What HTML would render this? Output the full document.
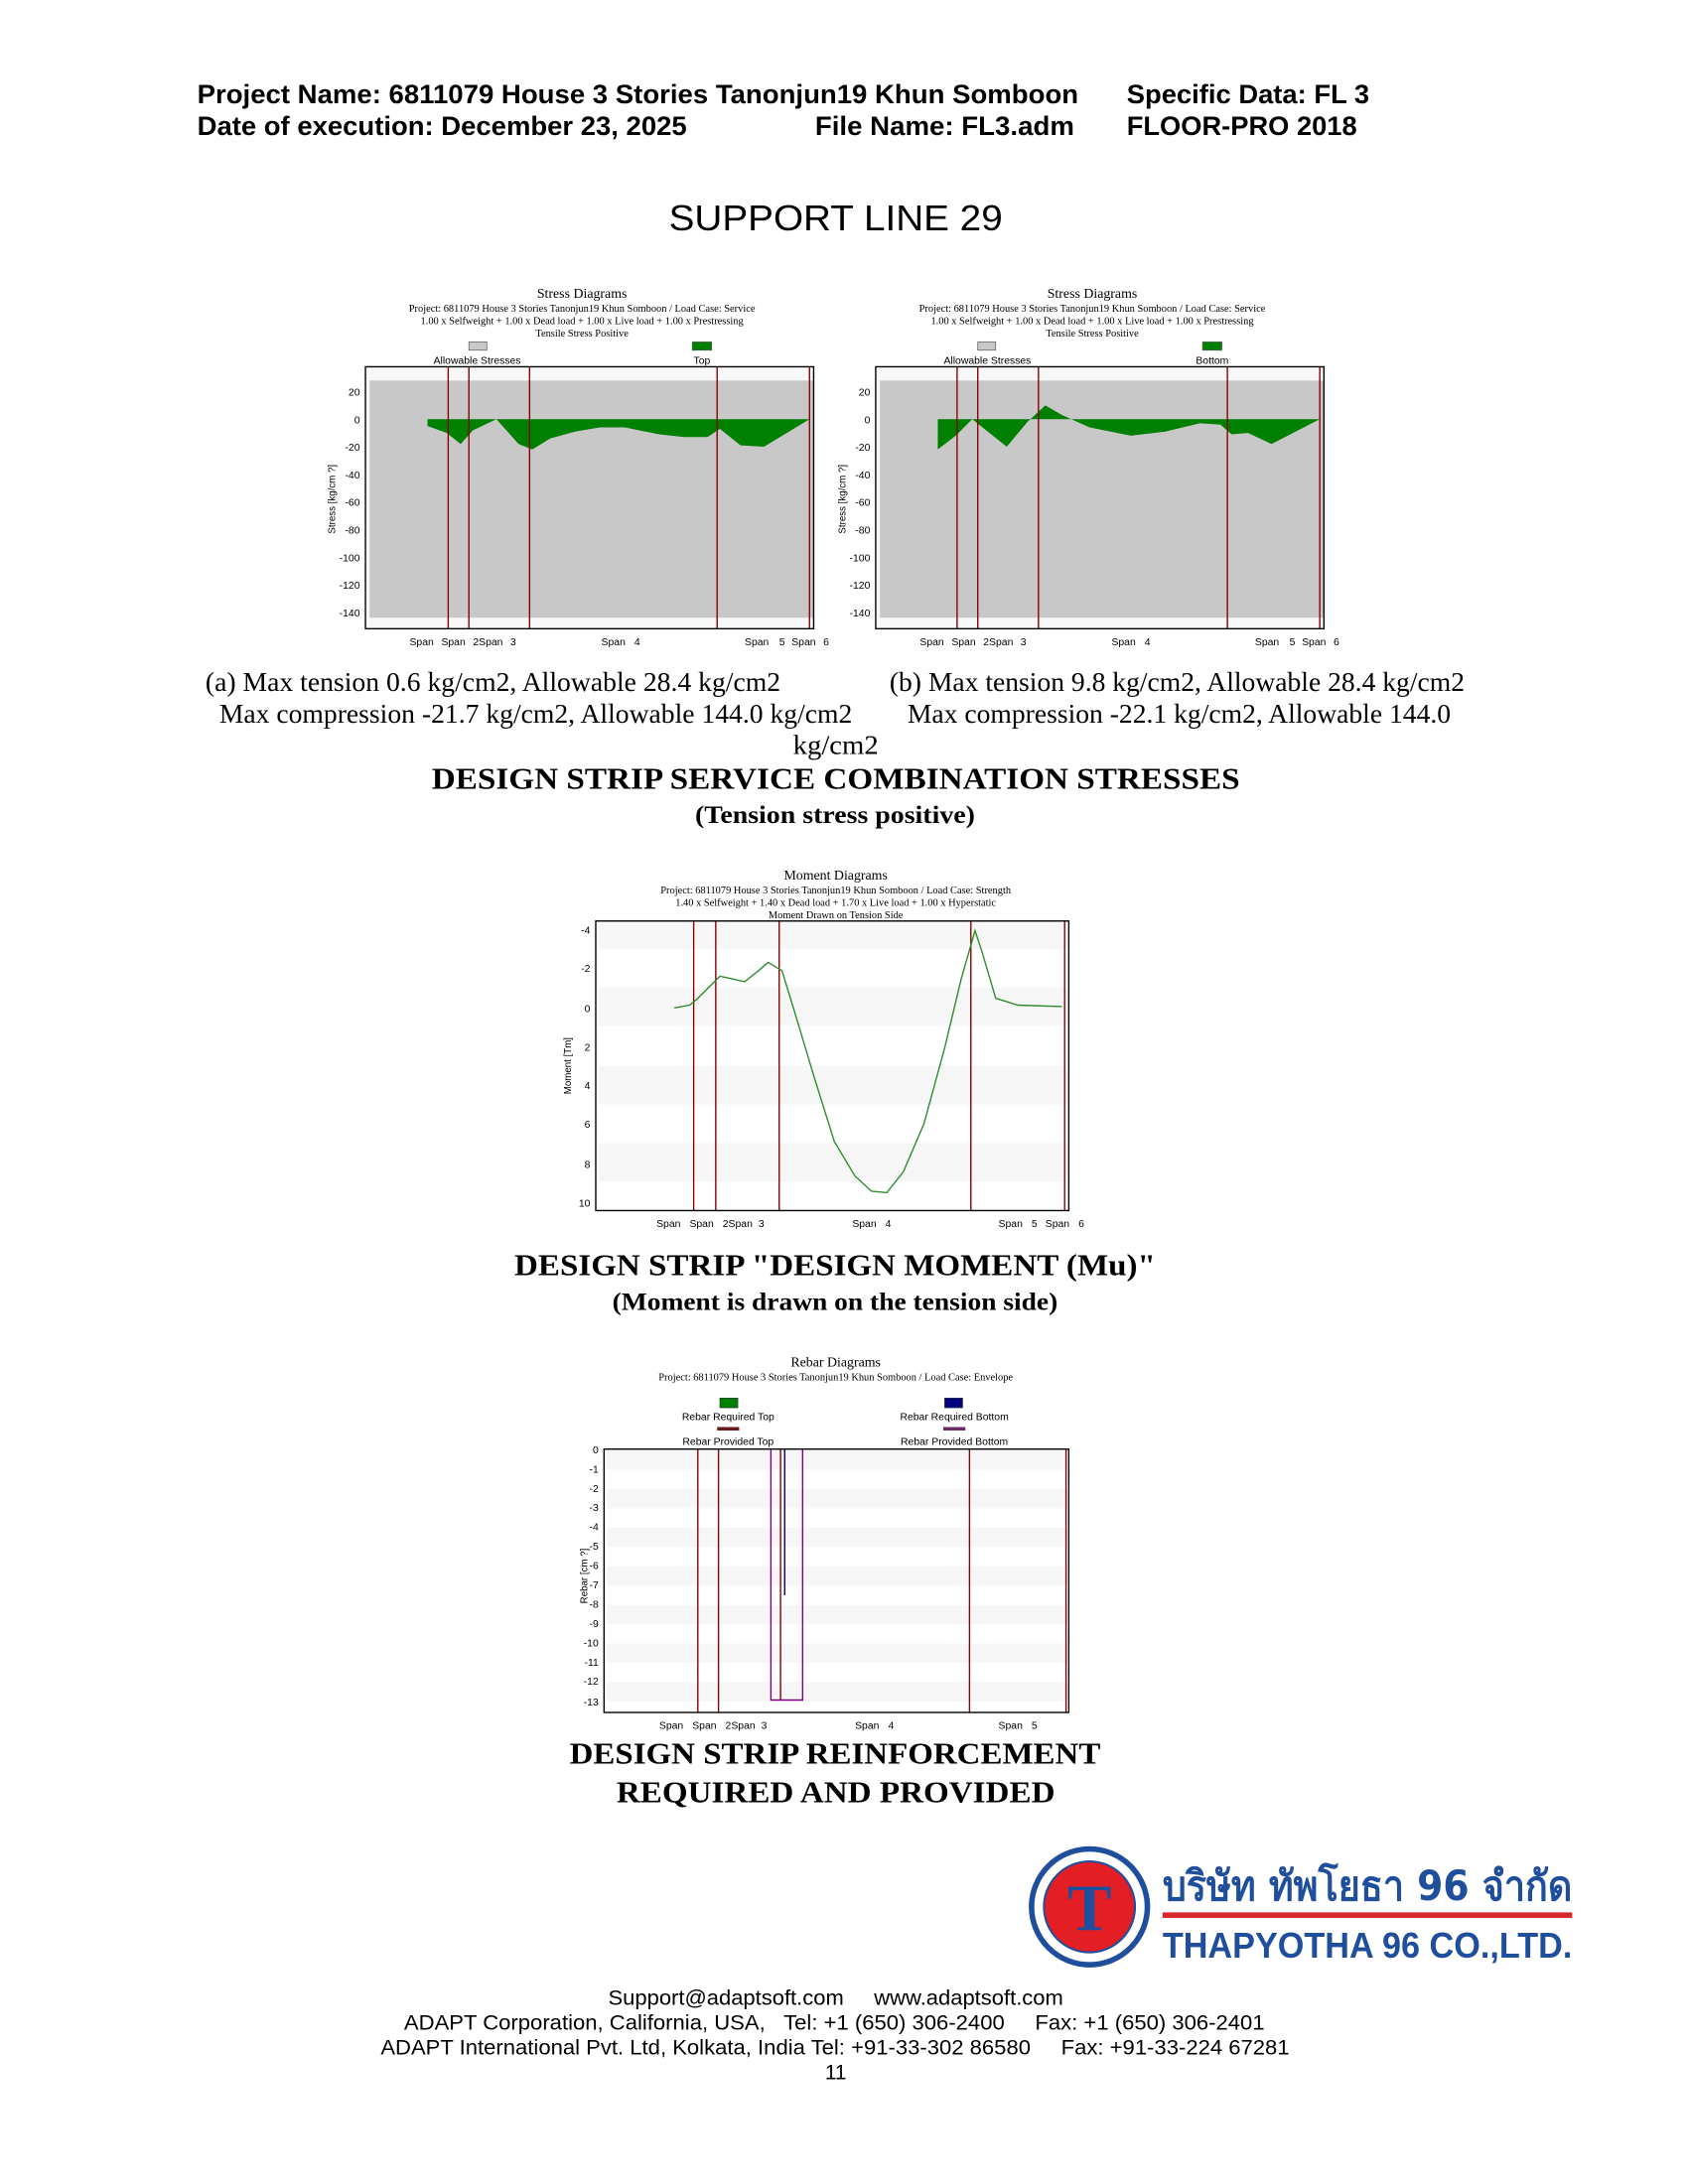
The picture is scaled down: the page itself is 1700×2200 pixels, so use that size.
<!DOCTYPE html>
<html><head><meta charset="utf-8"><style>
html,body{margin:0;padding:0;background:#fff;}
svg{display:block;}
.h{font-family:"Liberation Sans",sans-serif;font-weight:bold;font-size:19px;fill:#000;}
.s{font-family:"Liberation Serif",serif;}
.a{font-family:"Liberation Sans",sans-serif;}
</style></head><body>
<svg width="1700" height="2200" viewBox="0 0 1224 1584" xmlns="http://www.w3.org/2000/svg">
<rect width="1224" height="1584" fill="#fff"/>
<text x="143" y="75" class="h" textLength="639" lengthAdjust="spacingAndGlyphs">Project Name: 6811079 House 3 Stories Tanonjun19 Khun Somboon</text>
<text x="817" y="75" class="h" textLength="176" lengthAdjust="spacingAndGlyphs">Specific Data: FL 3</text>
<text x="143" y="98" class="h" textLength="355" lengthAdjust="spacingAndGlyphs">Date of execution: December 23, 2025</text>
<text x="591" y="98" class="h" textLength="188" lengthAdjust="spacingAndGlyphs">File Name: FL3.adm</text>
<text x="817" y="98" class="h" textLength="167" lengthAdjust="spacingAndGlyphs">FLOOR-PRO 2018</text>
<text x="485" y="167" class="a" font-size="26" textLength="242" lengthAdjust="spacingAndGlyphs">SUPPORT LINE 29</text>

<!-- Stress chart A -->
<g>
<text x="422" y="216" text-anchor="middle" class="s" font-size="10">Stress Diagrams</text>
<text x="422" y="226" text-anchor="middle" class="s" font-size="7.5">Project: 6811079 House 3 Stories Tanonjun19 Khun Somboon / Load Case: Service</text>
<text x="422" y="235" text-anchor="middle" class="s" font-size="7.5">1.00 x Selfweight +  1.00 x Dead load +  1.00 x Live load +  1.00 x Prestressing</text>
<text x="422" y="244" text-anchor="middle" class="s" font-size="7.5">Tensile Stress Positive</text>
<rect x="340" y="248" width="13" height="6" fill="#c8c8c8" stroke="#555" stroke-width="0.5"/>
<text x="346" y="264" text-anchor="middle" class="a" font-size="7.5">Allowable Stresses</text>
<rect x="502" y="248" width="14" height="6" fill="#008000" stroke="#555" stroke-width="0.5"/>
<text x="509" y="264" text-anchor="middle" class="a" font-size="7.5">Top</text>
<rect x="265" y="266" width="325" height="190" fill="#f8f8f8"/>
<rect x="268" y="276" width="322" height="172" fill="#c8c8c8"/>
<polygon fill="#008000" points="310,304 310,309 324,314 334,322 343,312 360,304 376,322 386,326 399,318 417,313 435,310 453,310 478,315 496,317 513,317 522,311 537,323 554,324 587,304"/>
<g stroke="#8b0000" stroke-width="1"><line x1="325" y1="266" x2="325" y2="456"/><line x1="340" y1="266" x2="340" y2="456"/><line x1="384" y1="266" x2="384" y2="456"/><line x1="520" y1="266" x2="520" y2="456"/><line x1="587" y1="266" x2="587" y2="456"/></g>
<rect x="265" y="266" width="325" height="190" fill="none" stroke="#000" stroke-width="1"/>
<g class="a" font-size="7.5" text-anchor="end">
<text x="261" y="287">20</text><text x="261" y="307">0</text><text x="261" y="327">-20</text><text x="261" y="347">-40</text><text x="261" y="367">-60</text><text x="261" y="387">-80</text><text x="261" y="407">-100</text><text x="261" y="427">-120</text><text x="261" y="447">-140</text></g>
<text transform="translate(243,362) rotate(-90)" text-anchor="middle" class="a" font-size="7">Stress [kg/cm ?]</text>
<g class="a" font-size="7.5"><text x="297" y="468">Span</text><text x="320" y="468">Span</text><text x="343" y="468">2Span</text><text x="370" y="468">3</text><text x="436" y="468">Span</text><text x="460" y="468">4</text><text x="540" y="468">Span</text><text x="565" y="468">5</text><text x="574" y="468">Span</text><text x="597" y="468">6</text></g>
</g>

<!-- Stress chart B -->
<g>
<text x="792" y="216" text-anchor="middle" class="s" font-size="10">Stress Diagrams</text>
<text x="792" y="226" text-anchor="middle" class="s" font-size="7.5">Project: 6811079 House 3 Stories Tanonjun19 Khun Somboon / Load Case: Service</text>
<text x="792" y="235" text-anchor="middle" class="s" font-size="7.5">1.00 x Selfweight +  1.00 x Dead load +  1.00 x Live load +  1.00 x Prestressing</text>
<text x="792" y="244" text-anchor="middle" class="s" font-size="7.5">Tensile Stress Positive</text>
<rect x="709" y="248" width="13" height="6" fill="#c8c8c8" stroke="#555" stroke-width="0.5"/>
<text x="716" y="264" text-anchor="middle" class="a" font-size="7.5">Allowable Stresses</text>
<rect x="872" y="248" width="14" height="6" fill="#008000" stroke="#555" stroke-width="0.5"/>
<text x="879" y="264" text-anchor="middle" class="a" font-size="7.5">Bottom</text>
<rect x="635" y="266" width="325" height="190" fill="#f8f8f8"/>
<rect x="638" y="276" width="322" height="172" fill="#c8c8c8"/>
<polygon fill="#008000" points="680,304 680,326 693,316 705,304 730,324 745,306 758,294 770,301 790,310 820,316 845,313 870,307 885,308 893,315 905,314 922,322 957,304"/>
<g stroke="#8b0000" stroke-width="1"><line x1="694" y1="266" x2="694" y2="456"/><line x1="709" y1="266" x2="709" y2="456"/><line x1="753" y1="266" x2="753" y2="456"/><line x1="890" y1="266" x2="890" y2="456"/><line x1="957" y1="266" x2="957" y2="456"/></g>
<rect x="635" y="266" width="325" height="190" fill="none" stroke="#000" stroke-width="1"/>
<g class="a" font-size="7.5" text-anchor="end">
<text x="631" y="287">20</text><text x="631" y="307">0</text><text x="631" y="327">-20</text><text x="631" y="347">-40</text><text x="631" y="367">-60</text><text x="631" y="387">-80</text><text x="631" y="407">-100</text><text x="631" y="427">-120</text><text x="631" y="447">-140</text></g>
<text transform="translate(613,362) rotate(-90)" text-anchor="middle" class="a" font-size="7">Stress [kg/cm ?]</text>
<g class="a" font-size="7.5"><text x="667" y="468">Span</text><text x="690" y="468">Span</text><text x="713" y="468">2Span</text><text x="740" y="468">3</text><text x="806" y="468">Span</text><text x="830" y="468">4</text><text x="910" y="468">Span</text><text x="935" y="468">5</text><text x="944" y="468">Span</text><text x="967" y="468">6</text></g>
</g>

<g class="s" font-size="19.5">
<text x="149" y="501" textLength="417" lengthAdjust="spacingAndGlyphs">(a) Max tension 0.6 kg/cm2, Allowable 28.4 kg/cm2</text>
<text x="159" y="524" textLength="459" lengthAdjust="spacingAndGlyphs">Max compression -21.7 kg/cm2, Allowable 144.0 kg/cm2</text>
<text x="645" y="501" textLength="417" lengthAdjust="spacingAndGlyphs">(b) Max tension 9.8 kg/cm2, Allowable 28.4 kg/cm2</text>
<text x="658" y="524" textLength="394" lengthAdjust="spacingAndGlyphs">Max compression -22.1 kg/cm2, Allowable 144.0</text>
<text x="575" y="547" textLength="62" lengthAdjust="spacingAndGlyphs">kg/cm2</text>
</g>
<text x="313" y="572" class="s" font-weight="bold" font-size="22" textLength="586" lengthAdjust="spacingAndGlyphs">DESIGN STRIP SERVICE COMBINATION STRESSES</text>
<text x="504" y="597" class="s" font-weight="bold" font-size="18" textLength="203" lengthAdjust="spacingAndGlyphs">(Tension stress positive)</text>

<!-- Moment chart -->
<g>
<text x="606" y="638" text-anchor="middle" class="s" font-size="10">Moment Diagrams</text>
<text x="606" y="648" text-anchor="middle" class="s" font-size="7.5">Project: 6811079 House 3 Stories Tanonjun19 Khun Somboon / Load Case: Strength</text>
<text x="606" y="657" text-anchor="middle" class="s" font-size="7.5">1.40 x Selfweight +  1.40 x Dead load +  1.70 x Live load +  1.00 x Hyperstatic</text>
<text x="606" y="666" text-anchor="middle" class="s" font-size="7.5">Moment Drawn on Tension Side</text>
<rect x="432" y="668" width="343" height="210" fill="#fff"/>
<g fill="#f6f6f6"><rect x="434" y="670" width="340" height="18"/><rect x="434" y="716" width="340" height="28"/><rect x="434" y="773" width="340" height="28"/><rect x="434" y="829" width="340" height="28"/></g>
<g stroke="#8b0000" stroke-width="1"><line x1="503" y1="668" x2="503" y2="878"/><line x1="519" y1="668" x2="519" y2="878"/><line x1="565" y1="668" x2="565" y2="878"/><line x1="704" y1="668" x2="704" y2="878"/><line x1="772" y1="668" x2="772" y2="878"/></g>
<polyline fill="none" stroke="#2e8b2e" stroke-width="1" points="489,731 500,729 505,725 512,718 522,708 531,710 540,712 550,704 557,698 567,704 575,730 590,780 605,828 620,853 632,864 643,865 655,850 670,815 685,760 697,710 707,675 712,690 722,724 738,729 770,730"/>
<rect x="432" y="668" width="343" height="210" fill="none" stroke="#000" stroke-width="1"/>
<g class="a" font-size="7.5" text-anchor="end">
<text x="428" y="677">-4</text><text x="428" y="705">-2</text><text x="428" y="734">0</text><text x="428" y="762">2</text><text x="428" y="790">4</text><text x="428" y="818">6</text><text x="428" y="847">8</text><text x="428" y="875">10</text></g>
<text transform="translate(414,773) rotate(-90)" text-anchor="middle" class="a" font-size="7">Moment [Tm]</text>
<g class="a" font-size="7.5"><text x="476" y="890">Span</text><text x="500" y="890">Span</text><text x="524" y="890">2Span</text><text x="550" y="890">3</text><text x="618" y="890">Span</text><text x="642" y="890">4</text><text x="724" y="890">Span</text><text x="748" y="890">5</text><text x="758" y="890">Span</text><text x="782" y="890">6</text></g>
</g>
<text x="373" y="925" class="s" font-weight="bold" font-size="22" textLength="465" lengthAdjust="spacingAndGlyphs">DESIGN STRIP "DESIGN MOMENT (Mu)"</text>
<text x="444" y="950" class="s" font-weight="bold" font-size="18" textLength="323" lengthAdjust="spacingAndGlyphs">(Moment is drawn on the tension side)</text>

<!-- Rebar chart -->
<g>
<text x="606" y="991" text-anchor="middle" class="s" font-size="10">Rebar Diagrams</text>
<text x="606" y="1001" text-anchor="middle" class="s" font-size="7.5">Project: 6811079 House 3 Stories Tanonjun19 Khun Somboon / Load Case: Envelope</text>
<rect x="522" y="1014" width="13" height="7" fill="#008000" stroke="#333" stroke-width="0.5"/>
<text x="528" y="1030" text-anchor="middle" class="a" font-size="7.5">Rebar Required Top</text>
<rect x="520" y="1035" width="16" height="2.5" fill="#6b1a1a"/>
<text x="528" y="1048" text-anchor="middle" class="a" font-size="7.5">Rebar Provided Top</text>
<rect x="685" y="1014" width="13" height="7" fill="#000080" stroke="#333" stroke-width="0.5"/>
<text x="692" y="1030" text-anchor="middle" class="a" font-size="7.5">Rebar Required Bottom</text>
<rect x="684" y="1035" width="16" height="2.5" fill="#6a2a6a"/>
<text x="692" y="1048" text-anchor="middle" class="a" font-size="7.5">Rebar Provided Bottom</text>
<rect x="438" y="1051" width="337" height="191" fill="#fff"/>
<g fill="#f6f6f6"><rect x="440" y="1052" width="334" height="14"/><rect x="440" y="1080" width="334" height="14"/><rect x="440" y="1108" width="334" height="14"/><rect x="440" y="1136" width="334" height="14"/><rect x="440" y="1164" width="334" height="14"/><rect x="440" y="1192" width="334" height="14"/><rect x="440" y="1220" width="334" height="14"/></g>
<g stroke="#8b0000" stroke-width="1"><line x1="506" y1="1051" x2="506" y2="1242"/><line x1="521" y1="1051" x2="521" y2="1242"/><line x1="703" y1="1051" x2="703" y2="1242"/><line x1="773" y1="1051" x2="773" y2="1242"/><line x1="566" y1="1051" x2="566" y2="1233"/></g>
<polyline fill="none" stroke="#800080" stroke-width="1" points="559,1051 559,1233 582,1233 582,1051"/>
<line x1="569" y1="1051" x2="569" y2="1157" stroke="#000080" stroke-width="1"/>
<rect x="438" y="1051" width="337" height="191" fill="none" stroke="#000" stroke-width="1"/>
<g class="a" font-size="7.5" text-anchor="end">
<text x="434" y="1054">0</text><text x="434" y="1068">-1</text><text x="434" y="1082">-2</text><text x="434" y="1096">-3</text><text x="434" y="1110">-4</text><text x="434" y="1124">-5</text><text x="434" y="1138">-6</text><text x="434" y="1152">-7</text><text x="434" y="1166">-8</text><text x="434" y="1180">-9</text><text x="434" y="1194">-10</text><text x="434" y="1208">-11</text><text x="434" y="1222">-12</text><text x="434" y="1237">-13</text></g>
<text transform="translate(426,1143) rotate(-90)" text-anchor="middle" class="a" font-size="7">Rebar [cm ?]</text>
<g class="a" font-size="7.5"><text x="478" y="1254">Span</text><text x="502" y="1254">Span</text><text x="526" y="1254">2Span</text><text x="552" y="1254">3</text><text x="620" y="1254">Span</text><text x="644" y="1254">4</text><text x="724" y="1254">Span</text><text x="748" y="1254">5</text></g>
</g>
<text x="413" y="1279" class="s" font-weight="bold" font-size="22" textLength="385" lengthAdjust="spacingAndGlyphs">DESIGN STRIP REINFORCEMENT</text>
<text x="447" y="1307" class="s" font-weight="bold" font-size="22" textLength="318" lengthAdjust="spacingAndGlyphs">REQUIRED AND PROVIDED</text>

<!-- Logo -->
<circle cx="790" cy="1383" r="42" fill="#fff" stroke="#1f4e9c" stroke-width="4"/>
<circle cx="790" cy="1383" r="33" fill="#e31e24" stroke="#1f4e9c" stroke-width="1.5"/>
<text x="790" y="1400" text-anchor="middle" class="s" font-weight="bold" font-size="48" fill="#1f4e9c">T</text>
<text x="843" y="1378" font-family="'DejaVu Sans','Liberation Sans',sans-serif" font-weight="bold" font-size="30" fill="#1f4e9c" textLength="297" lengthAdjust="spacingAndGlyphs">บริษัท ทัพโยธา 96 จำกัด</text>
<rect x="843" y="1387" width="297" height="4" fill="#d7262d"/>
<text x="843" y="1420" class="a" font-weight="bold" font-size="26" fill="#1f4e9c" textLength="297" lengthAdjust="spacingAndGlyphs">THAPYOTHA 96 CO.,LTD.</text>

<g class="a" font-size="15">
<text x="441" y="1454" textLength="330" lengthAdjust="spacingAndGlyphs">Support@adaptsoft.com&#160;&#160;&#160;&#160;&#160;www.adaptsoft.com</text>
<text x="293" y="1472" textLength="624" lengthAdjust="spacingAndGlyphs">ADAPT Corporation, California, USA,&#160;&#160;&#160;Tel: +1 (650) 306-2400&#160;&#160;&#160;&#160;&#160;Fax: +1 (650) 306-2401</text>
<text x="276" y="1490" textLength="659" lengthAdjust="spacingAndGlyphs">ADAPT International Pvt. Ltd, Kolkata, India Tel: +91-33-302 86580&#160;&#160;&#160;&#160;&#160;Fax: +91-33-224 67281</text>
<text x="606" y="1508" text-anchor="middle">11</text>
</g>
</svg>
</body></html>
